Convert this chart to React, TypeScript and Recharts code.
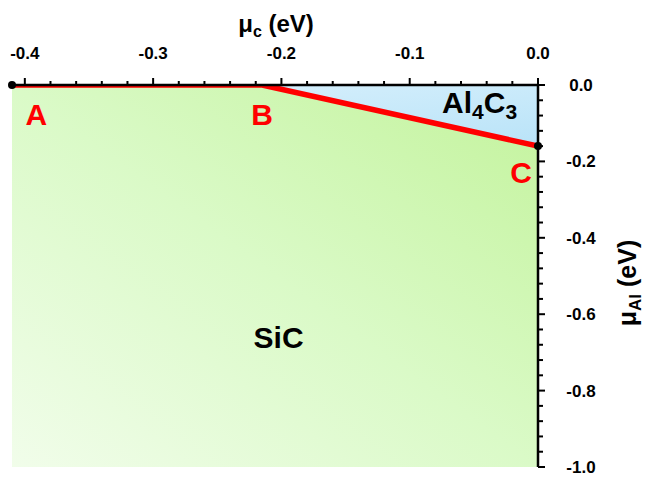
import {
  ComposedChart,
  Area,
  Line,
  XAxis,
  YAxis,
  ReferenceDot,
} from "recharts";

// boundary points A, B, C of the SiC stability region
const pointNames = ["A", "B", "C"];
const muC = [-0.41, -0.215, 0];
const muAl = [0, 0, -0.16];

const xMajor = [-0.4, -0.3, -0.2, -0.1, 0];
const xTicks = [
  -0.4, -0.38, -0.36, -0.34, -0.32, -0.3, -0.28, -0.26, -0.24, -0.22, -0.2,
  -0.18, -0.16, -0.14, -0.12, -0.1, -0.08, -0.06, -0.04, -0.02, 0,
];
const yMajor = [0, -0.2, -0.4, -0.6, -0.8, -1.0];
const yTicks = [
  0, -0.04, -0.08, -0.12, -0.16, -0.2, -0.24, -0.28, -0.32, -0.36, -0.4,
  -0.44, -0.48, -0.52, -0.56, -0.6, -0.64, -0.68, -0.72, -0.76, -0.8, -0.84,
  -0.88, -0.92, -0.96, -1.0,
];

const FONT = "'Liberation Sans', Arial, sans-serif";

const data = muC.map((x, i) => ({
  x,
  name: pointNames[i],
  mu: muAl[i],
  sic: [-1, muAl[i]],
  al4c3: [muAl[i], 0],
}));

// label anchor points (data units)
const letterPos = [
  { t: "A", x: -0.391, y: -0.105 },
  { t: "B", x: -0.215, y: -0.105 },
  { t: "C", x: -0.0131, y: -0.257 },
];

const isMajor = (list: number[], v: number) =>
  list.some((m) => Math.abs(m - v) < 1e-6);

const TopTick = (props: any) => {
  const { x, y, payload } = props;
  const v = payload.value;
  const major = isMajor(xMajor, v);
  return (
    <g>
      <line x1={x} y1={y} x2={x} y2={y - (major ? 7 : 4)} stroke="#000" strokeWidth={2} />
      {major && (
        <text x={x} y={y - 26} textAnchor="middle" fontSize={17} fontWeight="bold" fontFamily={FONT} fill="#000">
          {v.toFixed(1)}
        </text>
      )}
    </g>
  );
};

const RightTick = (props: any) => {
  const { x, y, payload } = props;
  const v = payload.value;
  const major = isMajor(yMajor, v);
  return (
    <g>
      <line x1={x} y1={y} x2={x + (major ? 7 : 5)} y2={y} stroke="#000" strokeWidth={2} />
      {major && (
        <text x={x + 43} y={y + 6} textAnchor="middle" fontSize={17} fontWeight="bold" fontFamily={FONT} fill="#000">
          {v.toFixed(1)}
        </text>
      )}
    </g>
  );
};

const XTitle = (props: any) => {
  const vb = props.viewBox;
  return (
    <text x={vb.x + vb.width / 2 + 1} y={vb.y - 3} textAnchor="middle" fontSize={24} fontWeight="bold" fontFamily={FONT} fill="#000">
      μ<tspan fontSize={16} dy={5}>c</tspan>
      <tspan dy={-5}> (eV)</tspan>
    </text>
  );
};

const YTitle = (props: any) => {
  const vb = props.viewBox;
  const cx = vb.x + vb.width + 38;
  const cy = vb.y + vb.height / 2 + 7;
  return (
    <text x={cx} y={cy} transform={`rotate(-90 ${cx} ${cy})`} textAnchor="middle" fontSize={25} fontWeight="bold" fontFamily={FONT} fill="#000">
      μ<tspan fontSize={17} dy={5}>Al</tspan>
      <tspan dy={-5}> (eV)</tspan>
    </text>
  );
};

export default function App() {
  return (
    <div style={{ position: "absolute", left: 0, top: 0 }}>
      <ComposedChart
        width={650}
        height={482}
        data={data}
        margin={{ top: 35, right: 52, left: 12, bottom: 15 }}
      >
        <defs>
          <linearGradient id="sicFill" x1="1" y1="0" x2="0" y2="1">
            <stop offset="0%" stopColor="#c3f39c" />
            <stop offset="50%" stopColor="#dafac7" />
            <stop offset="100%" stopColor="#f1fdea" />
          </linearGradient>
          <linearGradient id="alFill" x1="0" y1="0" x2="1" y2="1">
            <stop offset="0%" stopColor="#dcf2fd" />
            <stop offset="100%" stopColor="#b9e3f8" />
          </linearGradient>
        </defs>
        <XAxis
          dataKey="x"
          type="number"
          orientation="top"
          domain={[-0.41, 0]}
          ticks={xTicks}
          interval={0}
          height={50}
          tickSize={0}
          tickMargin={0}
          tickLine={false}
          tick={<TopTick />}
          axisLine={{ stroke: "#000", strokeWidth: 2.5 }}
          allowDataOverflow
          label={{ content: <XTitle /> }}
        />
        <XAxis
          xAxisId="bottom"
          type="number"
          orientation="bottom"
          domain={[-0.41, 0]}
          height={0}
          tick={false}
          tickLine={false}
          axisLine={{ stroke: "#000", strokeWidth: 2.5 }}
        />
        <YAxis
          type="number"
          orientation="right"
          domain={[-1, 0]}
          ticks={yTicks}
          interval={0}
          width={60}
          tickSize={0}
          tickMargin={0}
          tickLine={false}
          tick={<RightTick />}
          axisLine={{ stroke: "#000", strokeWidth: 2.5 }}
          allowDataOverflow
          label={{ content: <YTitle /> }}
        />
        <YAxis
          yAxisId="left"
          type="number"
          orientation="left"
          domain={[-1, 0]}
          width={0}
          tick={false}
          tickLine={false}
          axisLine={{ stroke: "#000", strokeWidth: 2.5 }}
        />
        <Area
          dataKey="sic"
          type="linear"
          fill="url(#sicFill)"
          fillOpacity={1}
          stroke="none"
          isAnimationActive={false}
        />
        <Area
          dataKey="al4c3"
          type="linear"
          fill="url(#alFill)"
          fillOpacity={1}
          stroke="none"
          isAnimationActive={false}
        />
        <Line
          dataKey="mu"
          type="linear"
          stroke="#ff0000"
          strokeWidth={5.5}
          dot={false}
          isAnimationActive={false}
        />
        {[0, 2].map((i) => (
          <ReferenceDot key={i} x={muC[i]} y={muAl[i]} r={4} fill="#000" stroke="none" />
        ))}
        {letterPos.map((p) => (
          <ReferenceDot
            key={p.t}
            x={p.x}
            y={p.y}
            r={0}
            shape={(s: any) => (
              <text x={s.cx} y={s.cy} textAnchor="middle" fontSize={30} fontWeight="bold" fontFamily={FONT} fill="#ff0000">
                {p.t}
              </text>
            )}
          />
        ))}
        <ReferenceDot
          x={-0.2022}
          y={-0.688}
          r={0}
          shape={(s: any) => (
            <text x={s.cx} y={s.cy} textAnchor="middle" fontSize={30} fontWeight="bold" fontFamily={FONT} fill="#000">
              SiC
            </text>
          )}
        />
        <ReferenceDot
          x={-0.0748}
          y={-0.073}
          r={0}
          shape={(s: any) => (
            <text x={s.cx} y={s.cy} textAnchor="start" fontSize={30} fontWeight="bold" fontFamily={FONT} fill="#000">
              Al<tspan fontSize={21} dy={6}>4</tspan>
              <tspan dy={-6}>C</tspan>
              <tspan fontSize={21} dy={6}>3</tspan>
            </text>
          )}
        />
      </ComposedChart>
    </div>
  );
}
